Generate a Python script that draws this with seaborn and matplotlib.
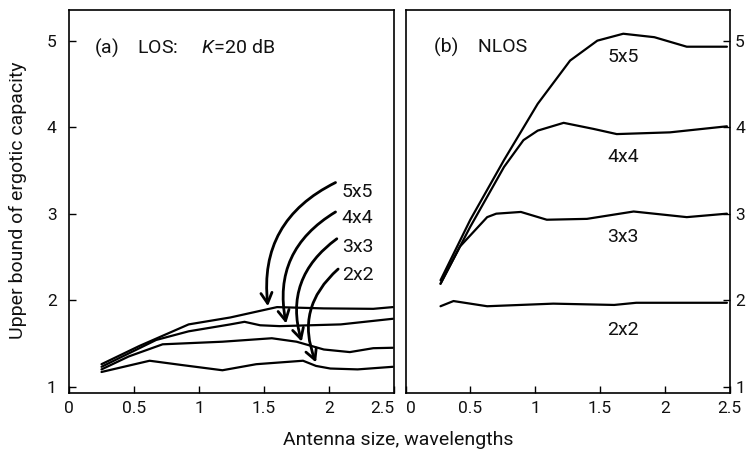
import matplotlib
matplotlib.use("Agg")
import matplotlib.pyplot as plt
import pandas as pd
import seaborn as sns

# ------------------------------------------------------------
# Data
# ------------------------------------------------------------
sizes = ["5x5", "4x4", "3x3", "2x2"]

# (a) LOS, K = 20 dB
los_x = {
    "5x5": [0.25, 0.54, 0.92, 1.24, 1.60, 1.96, 2.34, 2.49],
    "4x4": [0.25, 0.67, 0.92, 1.24, 1.35, 1.47, 1.62, 2.09, 2.49],
    "3x3": [0.25, 0.46, 0.72, 1.18, 1.56, 1.75, 1.96, 2.16, 2.34, 2.49],
    "2x2": [0.25, 0.62, 0.87, 1.18, 1.44, 1.80, 1.90, 2.01, 2.22, 2.49],
}
los_y = {
    "5x5": [1.26, 1.47, 1.72, 1.80, 1.92, 1.905, 1.90, 1.92],
    "4x4": [1.23, 1.54, 1.64, 1.72, 1.75, 1.71, 1.70, 1.72, 1.785],
    "3x3": [1.20, 1.35, 1.49, 1.52, 1.56, 1.52, 1.43, 1.40, 1.445, 1.45],
    "2x2": [1.17, 1.30, 1.25, 1.19, 1.26, 1.30, 1.24, 1.21, 1.20, 1.23],
}

# (b) NLOS
nlos_x = {
    "5x5": [0.27, 0.50, 0.76, 1.02, 1.27, 1.48, 1.68, 1.92, 2.17, 2.48],
    "4x4": [0.27, 0.50, 0.76, 0.91, 1.02, 1.22, 1.45, 1.63, 2.04, 2.48],
    "3x3": [0.27, 0.42, 0.63, 0.70, 0.89, 1.09, 1.40, 1.76, 2.17, 2.48],
    "2x2": [0.27, 0.37, 0.63, 1.14, 1.61, 1.78, 2.48],
}
nlos_y = {
    "5x5": [2.23, 2.93, 3.62, 4.27, 4.77, 5.00, 5.08, 5.04, 4.93, 4.93],
    "4x4": [2.19, 2.85, 3.54, 3.85, 3.96, 4.05, 3.98, 3.92, 3.94, 4.01],
    "3x3": [2.19, 2.62, 2.96, 3.00, 3.02, 2.93, 2.94, 3.025, 2.96, 3.00],
    "2x2": [1.93, 1.99, 1.93, 1.96, 1.945, 1.97, 1.97],
}

# arrow annotations in panel (a): label height, arrow start, arrow tip
los_label_y = [3.25, 2.95, 2.62, 2.29]
los_arrow_start = [(2.05, 3.36), (2.05, 3.02), (2.06, 2.71), (2.07, 2.36)]
los_arrow_tip = [(1.53, 1.93), (1.67, 1.73), (1.79, 1.52), (1.90, 1.28)]

# in-line labels in panel (b)
nlos_label_y = [4.81, 3.66, 2.73, 1.66]

x_ticks = [0, 0.5, 1, 1.5, 2, 2.5]
x_ticklabels = ["0", "0.5", "1", "1.5", "2", "2.5"]
y_ticks = [1, 2, 3, 4, 5]


def to_long(xs, ys):
    rows = []
    for s in sizes:
        for x, y in zip(xs[s], ys[s]):
            rows.append({"size": s, "x": x, "y": y})
    return pd.DataFrame(rows)


los_df = to_long(los_x, los_y)
nlos_df = to_long(nlos_x, nlos_y)

# ------------------------------------------------------------
# Style
# ------------------------------------------------------------
sns.set_style("ticks")
plt.rcParams["font.family"] = ["Roboto", "DejaVu Sans"]
plt.rcParams["mathtext.fontset"] = "custom"
plt.rcParams["mathtext.rm"] = "Roboto"
plt.rcParams["mathtext.it"] = "Roboto:italic"
plt.rcParams["xtick.direction"] = "in"
plt.rcParams["ytick.direction"] = "in"
plt.rcParams["axes.edgecolor"] = "black"
plt.rcParams["axes.linewidth"] = 1.2
plt.rcParams["text.color"] = "#111111"

fs = 14

fig = plt.figure(figsize=(7.46, 4.58), dpi=100)
ax_a = fig.add_axes([0.0925, 0.1419, 0.4357, 0.8362])
ax_b = fig.add_axes([0.5436, 0.1419, 0.4343, 0.8362])

black = {s: "black" for s in sizes}

sns.lineplot(data=los_df, x="x", y="y", hue="size", palette=black,
             linewidth=1.6, legend=False, ax=ax_a)
sns.lineplot(data=nlos_df, x="x", y="y", hue="size", palette=black,
             linewidth=1.6, legend=False, ax=ax_b)

for ax in (ax_a, ax_b):
    ax.set_xlim(0, 2.5)
    ax.set_ylim(0.927, 5.354)
    ax.set_xticks(x_ticks)
    ax.set_xticklabels(x_ticklabels)
    ax.set_yticks(y_ticks)
    ax.set_xlabel("")
    ax.set_ylabel("")
    ax.tick_params(axis="x", length=5, width=1, pad=6, labelsize=12.5,
                   colors="black", labelcolor="#111111")
    ax.tick_params(axis="y", length=5, width=1, pad=9, labelsize=12.5,
                   colors="black", labelcolor="#111111")

ax_b.yaxis.tick_right()
ax_b.tick_params(axis="y", pad=4)

# keep the labels at the panel junction from running into each other
ax_a.get_xticklabels()[-1].set_ha("right")
ax_b.get_xticklabels()[0].set_ha("left")

# panel titles
ax_a.text(0.19, 4.92, "(a)    LOS:     $K$=20 dB", fontsize=fs,
          va="center", ha="left")
ax_b.text(0.22, 4.92, "(b)    NLOS", fontsize=fs, va="center", ha="left")

# labels with curved arrows in (a)
for s, ly, st, tip in zip(sizes, los_label_y, los_arrow_start, los_arrow_tip):
    ax_a.text(2.22, ly, s, fontsize=fs, ha="center", va="center")
    ax_a.annotate("", xy=tip, xytext=st,
                  arrowprops=dict(arrowstyle="->,head_length=0.75,head_width=0.4",
                                  connectionstyle="arc3,rad=0.35",
                                  color="black", lw=2, shrinkA=0, shrinkB=0))

# labels in (b)
for s, ly in zip(sizes, nlos_label_y):
    ax_b.text(1.68, ly, s, fontsize=fs, ha="center", va="center")

fig.text(18 / 746, 1 - 200 / 458, "Upper bound of ergotic capacity",
         rotation=90, ha="center", va="center", fontsize=fs)
fig.text(398 / 746, 1 - 440 / 458, "Antenna size, wavelengths",
         ha="center", va="center", fontsize=fs)

fig.savefig("out.png", dpi=100)
